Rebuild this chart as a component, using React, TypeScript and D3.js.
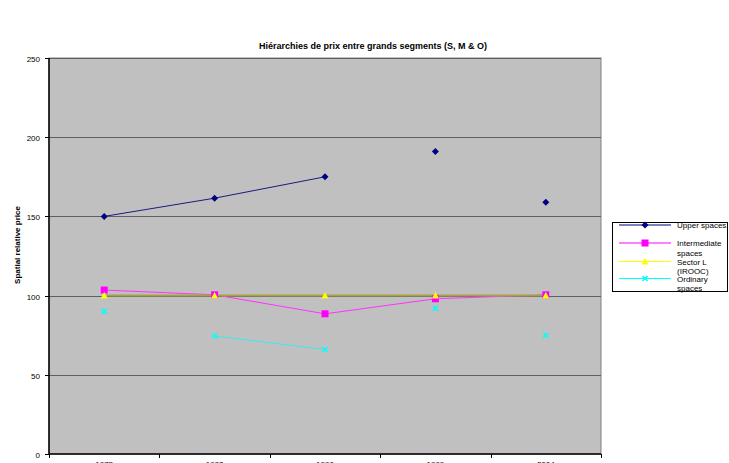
import { useRef, useEffect } from "react";
import * as d3 from "d3";

const YEARS = ["1975", "1982", "1990", "1999", "2004"];
const Y_TICKS = [0, 50, 100, 150, 200, 250];

const UPPER = [150, 161.5, 175, 191, 159];
const INTERMEDIATE = [103.5, 100.5, 88.5, 98, 100.5];
const SECTOR_L = [100, 100, 100, 100, 100];
const ORDINARY = [90, 74.5, 66, 92, 75];

// which consecutive points are joined by a line (gaps in the source sheet)
const UPPER_JOIN = [true, true, false, false];
const INTERMEDIATE_JOIN = [true, true, true, true];
const SECTOR_L_JOIN = [true, true, true, true];
const ORDINARY_JOIN = [false, true, false, false];

const W = 729;
const H = 463;
const PLOT = { left: 49, right: 601, top: 58, bottom: 454 };
const FONT = "'Liberation Sans', Arial, sans-serif";

type Marker = "diamond" | "square" | "triangle" | "cross";

interface Series {
  name: string[];
  values: number[];
  join: boolean[];
  color: string;
  lineColor: string;
  marker: Marker;
}

const SERIES: Series[] = [
  { name: ["Upper spaces"], values: UPPER, join: UPPER_JOIN, color: "#000080", lineColor: "#1a1a80", marker: "diamond" },
  { name: ["Intermediate", "spaces"], values: INTERMEDIATE, join: INTERMEDIATE_JOIN, color: "#ff00ff", lineColor: "#ff33ff", marker: "square" },
  { name: ["Sector L", "(IROOC)"], values: SECTOR_L, join: SECTOR_L_JOIN, color: "#ffff00", lineColor: "#a8a048", marker: "triangle" },
  { name: ["Ordinary", "spaces"], values: ORDINARY, join: ORDINARY_JOIN, color: "#00ffff", lineColor: "#40e8e8", marker: "cross" },
];

function drawMarker(
  g: d3.Selection<SVGGElement, unknown, null, undefined>,
  kind: Marker,
  x: number,
  y: number,
  color: string,
) {
  if (kind === "diamond") {
    g.append("path")
      .attr("d", `M${x},${y - 3.5}L${x + 3.5},${y}L${x},${y + 3.5}L${x - 3.5},${y}Z`)
      .attr("fill", color);
  } else if (kind === "square") {
    g.append("rect").attr("x", x - 3.5).attr("y", y - 3.5).attr("width", 7).attr("height", 7).attr("fill", color);
  } else if (kind === "triangle") {
    g.append("path")
      .attr("d", `M${x},${y - 3.5}L${x + 3.5},${y + 3}L${x - 3.5},${y + 3}Z`)
      .attr("fill", color);
  } else {
    g.append("path")
      .attr("d", `M${x - 2.5},${y - 2.5}L${x + 2.5},${y + 2.5}M${x + 2.5},${y - 2.5}L${x - 2.5},${y + 2.5}`)
      .attr("stroke", color)
      .attr("stroke-width", 1.6);
  }
}

export default function App() {
  const svgRef = useRef<SVGSVGElement>(null);

  useEffect(() => {
    if (!svgRef.current) return;
    const svg = d3.select(svgRef.current);
    svg.selectAll("*").remove();

    const x = d3.scaleBand<string>().domain(YEARS).range([PLOT.left, PLOT.right]);
    const y = d3.scaleLinear().domain([0, 250]).range([PLOT.bottom, PLOT.top]);
    const cx = (i: number) => (x(YEARS[i]) ?? 0) + x.bandwidth() / 2;

    svg.append("rect").attr("width", W).attr("height", H).attr("fill", "#ffffff");

    // Title
    svg.append("text")
      .attr("x", 373)
      .attr("y", 49)
      .attr("text-anchor", "middle")
      .attr("font-family", FONT)
      .attr("font-size", 9)
      .attr("font-weight", "bold")
      .text("Hiérarchies de prix entre grands segments (S, M & O)");

    // Plot area
    svg.append("rect")
      .attr("x", PLOT.left)
      .attr("y", PLOT.top)
      .attr("width", PLOT.right - PLOT.left)
      .attr("height", PLOT.bottom - PLOT.top)
      .attr("fill", "#c0c0c0")
      .attr("stroke", "#808080")
      .attr("stroke-width", 1);

    // Gridlines
    svg.append("g")
      .selectAll("line")
      .data(Y_TICKS.filter((t) => t > 0))
      .join("line")
      .attr("x1", PLOT.left)
      .attr("x2", PLOT.right)
      .attr("y1", (d) => Math.round(y(d)) + 0.5)
      .attr("y2", (d) => Math.round(y(d)) + 0.5)
      .attr("stroke", "#606060")
      .attr("stroke-width", 1);

    // Y axis
    const yAxis = svg.append("g").attr("transform", `translate(${PLOT.left},0)`);
    yAxis.append("line")
      .attr("x1", 0).attr("x2", 0)
      .attr("y1", PLOT.top).attr("y2", PLOT.bottom)
      .attr("stroke", "#000").attr("stroke-width", 1.5);
    Y_TICKS.forEach((t) => {
      const ty = Math.round(y(t)) + 0.5;
      yAxis.append("line").attr("x1", -4).attr("x2", 0).attr("y1", ty).attr("y2", ty).attr("stroke", "#000");
      yAxis.append("text")
        .attr("x", -9)
        .attr("y", ty + 3)
        .attr("text-anchor", "end")
        .attr("font-family", FONT)
        .attr("font-size", 8)
        .text(String(t));
    });

    svg.append("text")
      .attr("transform", `translate(20,245) rotate(-90)`)
      .attr("text-anchor", "middle")
      .attr("font-family", FONT)
      .attr("font-size", 8)
      .attr("font-weight", "bold")
      .text("Spatial relative price");

    // X axis
    const xAxis = svg.append("g");
    xAxis.append("line")
      .attr("x1", PLOT.left).attr("x2", PLOT.right)
      .attr("y1", PLOT.bottom).attr("y2", PLOT.bottom)
      .attr("stroke", "#000").attr("stroke-width", 1.5);
    const bounds = [...YEARS.map((yr) => x(yr) ?? 0), PLOT.right];
    bounds.forEach((bx) => {
      xAxis.append("line")
        .attr("x1", Math.round(bx) + 0.5).attr("x2", Math.round(bx) + 0.5)
        .attr("y1", PLOT.bottom).attr("y2", PLOT.bottom + 4)
        .attr("stroke", "#000");
    });
    YEARS.forEach((yr, i) => {
      xAxis.append("text")
        .attr("x", cx(i))
        .attr("y", 467)
        .attr("text-anchor", "middle")
        .attr("font-family", FONT)
        .attr("font-size", 8)
        .text(yr);
    });

    // Series
    const line = d3.line<[number, number]>().x((d) => cx(d[0])).y((d) => y(d[1]));
    const seriesG = svg.append("g");
    SERIES.forEach((s) => {
      s.join.forEach((j, i) => {
        if (!j) return;
        seriesG.append("path")
          .attr("d", line([[i, s.values[i]], [i + 1, s.values[i + 1]]]) ?? "")
          .attr("fill", "none")
          .attr("stroke", s.lineColor)
          .attr("stroke-width", s.marker === "triangle" ? 2 : 1);
      });
    });
    SERIES.forEach((s) => {
      const g = seriesG.append("g");
      s.values.forEach((v, i) => drawMarker(g, s.marker, cx(i), y(v), s.color));
    });

    // Legend
    const lg = svg.append("g");
    lg.append("rect")
      .attr("x", 612.5)
      .attr("y", 222.5)
      .attr("width", 115)
      .attr("height", 69)
      .attr("fill", "#ffffff")
      .attr("stroke", "#000")
      .attr("stroke-width", 1);
    const rowY = [225, 243, 261.5, 278.5];
    SERIES.forEach((s, i) => {
      const ry = rowY[i];
      lg.append("line")
        .attr("x1", 619).attr("x2", 671)
        .attr("y1", ry).attr("y2", ry)
        .attr("stroke", s.color)
        .attr("stroke-width", 1);
      const mg = lg.append("g");
      drawMarker(mg, s.marker, 645, ry, s.color);
      s.name.forEach((ln, k) => {
        lg.append("text")
          .attr("x", 677)
          .attr("y", ry + 3 + k * 9.5)
          .attr("font-family", FONT)
          .attr("font-size", 8)
          .text(ln);
      });
    });
  }, []);

  return (
    <div style={{ position: "fixed", left: 0, top: 0, width: W, height: H, overflow: "hidden" }}>
      <svg ref={svgRef} width={W} height={H} />
    </div>
  );
}
